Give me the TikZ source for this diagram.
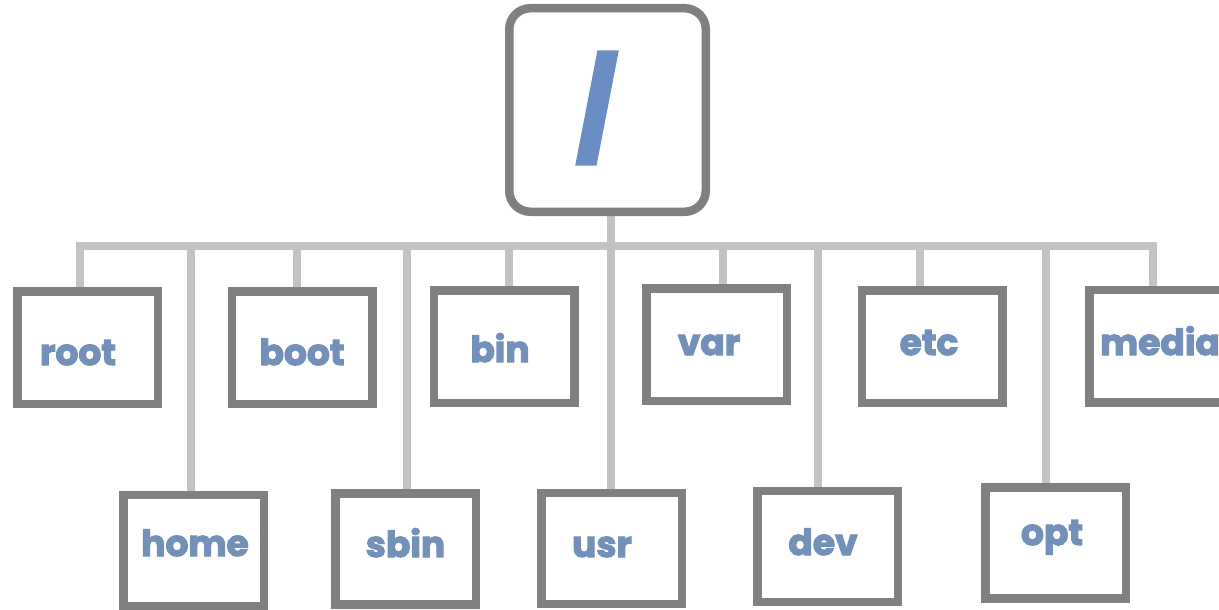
\documentclass[tikz,border=0pt]{standalone}
\usepackage{fontspec}
\setmainfont{Poppins}[BoldFeatures={FakeBold=3}]
\newfontfamily\slashfont{Poppins}[BoldFeatures={FakeBold=11.4}]
\usepackage{graphicx}
\usetikzlibrary{backgrounds}
\definecolor{boxgray}{HTML}{808080}
\definecolor{linkgray}{HTML}{C3C3C3}
\definecolor{labelblue}{HTML}{7290B8}
\definecolor{slashblue}{HTML}{6A8DC4}
\begin{document}
\begin{tikzpicture}[x=1pt,y=-1pt,
  dirbox/.style={draw=boxgray, line width=8.5pt, fill=white, inner sep=0pt,
                 minimum width=140.5pt, minimum height=112.5pt},
  lowbox/.style={dirbox, minimum height=111pt},
  topbox/.style={draw=boxgray, line width=8.5pt, fill=white, rounded corners=21pt,
                 minimum width=196.5pt, minimum height=203.5pt, inner sep=0pt},
  conn/.style={draw=linkgray, line width=7.5pt},
  lbl/.style={font=\bfseries\fontsize{36}{36}\selectfont, text=labelblue,
              anchor=base, inner sep=0pt}]
\useasboundingbox (0,0) rectangle (1219,610);
\clip (0,0) rectangle (1219,610);

% root of the tree
\node[topbox] (top) at (607.5,110) {};
\coordinate (bus) at (611,246);

% directory boxes, upper row
\node[dirbox] (root)  at (87.5,347.5) {};
\node[dirbox] (boot)  at (302,347.5) {};
\node[dirbox] (bin)   at (504,346.5) {};
\node[dirbox] (var)   at (716.5,344.5) {};
\node[dirbox] (etc)   at (932,346.5) {};
\node[dirbox] (media) at (1159.5,346) {};
% directory boxes, lower row
\node[lowbox] (home) at (193.5,550.5) {};
\node[lowbox] (sbin) at (405.5,549) {};
\node[lowbox] (usr)  at (611.5,548.5) {};
\node[lowbox] (dev)  at (827.5,546.5) {};
\node[lowbox] (opt)  at (1055.5,543) {};

% connectors, kept under the boxes
\begin{scope}[on background layer]
\draw[conn] ([xshift=3.5pt]top.south) -- (bus);
\draw[conn] (bus) -| ([xshift=-7.5pt]root.north);
\draw[conn] (bus) -| ([xshift=-5pt]boot.north);
\draw[conn] (bus) -| ([xshift=5pt]bin.north);
\draw[conn] (bus) -| ([xshift=6.5pt]var.north);
\draw[conn] (bus) -| ([xshift=-12pt]etc.north);
\draw[conn] (bus) -| ([xshift=-6.5pt]media.north);
\draw[conn] (bus) -| ([xshift=-2.5pt]home.north);
\draw[conn] (bus) -| ([xshift=1.5pt]sbin.north);
\draw[conn] (bus) -| ([xshift=-0.5pt]usr.north);
\draw[conn] (bus) -| ([xshift=-9.5pt]dev.north);
\draw[conn] (bus) -| ([xshift=-9.5pt]opt.north);
\end{scope}

% labels
\node[font=\slashfont\bfseries\fontsize{92}{92}\selectfont, text=slashblue,
      inner sep=0pt] (slash) at (597,108) {\scalebox{0.82}[1]{/}};
\node[lbl] (root-l)  at (78,365)   {root};
\node[lbl] (boot-l)  at (302,365)  {boot};
\node[lbl] (bin-l)   at (500,362)  {bin};
\node[lbl] (var-l)   at (709,355)  {var};
\node[lbl] (etc-l)   at (929,355)  {etc};
\node[lbl] (media-l) at (1160,355) {media};
\node[lbl] (home-l)  at (195,556)  {home};
\node[lbl] (sbin-l)  at (405.5,557) {sbin};
\node[lbl] (usr-l)   at (602,557)  {usr};
\node[lbl] (dev-l)   at (823,555)  {dev};
\node[lbl] (opt-l)   at (1052,545) {opt};
\end{tikzpicture}
\end{document}
